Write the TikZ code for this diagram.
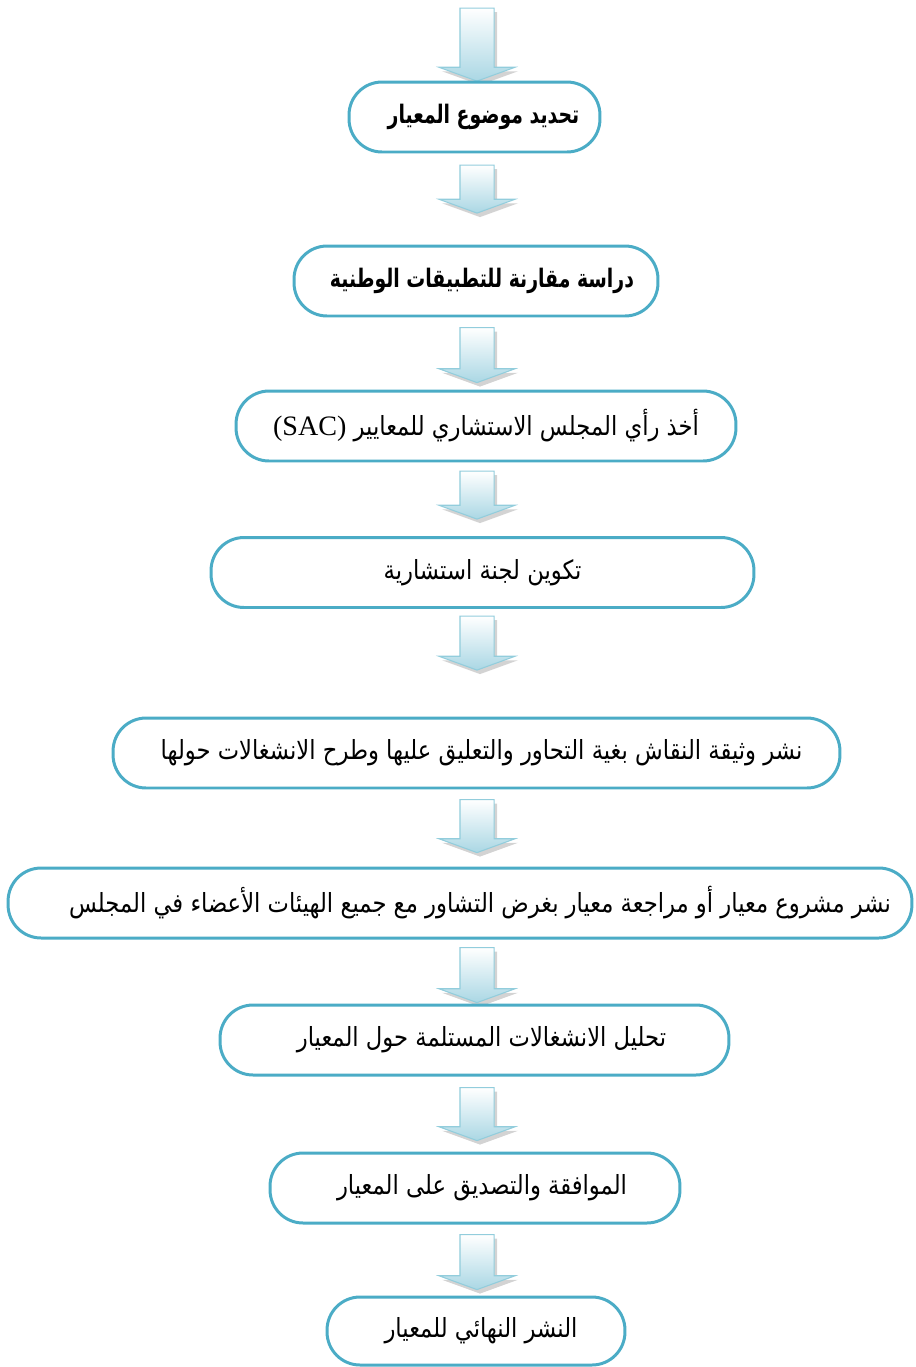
\documentclass[tikz,border=0pt]{standalone}
\usepackage{fontspec}
\setmainfont{Liberation Serif}
\newfontfamily\arabicfont[Script=Arabic, FakeStretch=0.86]{DejaVu Sans}
\newfontfamily\arabicbold[Script=Arabic, FakeStretch=0.74]{DejaVu Sans Bold}
\TeXXeTstate=1
\usetikzlibrary{shapes.arrows,shadows}

\definecolor{stageline}{RGB}{75,172,198}
\definecolor{arrowline}{RGB}{146,205,220}
\definecolor{arrowfill}{RGB}{170,215,228}

\begin{document}
\begin{tikzpicture}[
  x=0.02cm, y=-0.02cm,
  every node/.style={font=\arabicfont\fontsize{15}{18}\selectfont},
  stage/.style={draw=stageline, line width=1.7pt, rounded corners=0.66cm, minimum height=1.4cm, fill=white, align=center},
  keystage/.style={stage, font=\arabicbold\fontsize{14.5}{17}\selectfont},
  flowarrow/.style={single arrow, shape border rotate=270, draw=arrowline, line width=0.6pt,
    top color=white, bottom color=arrowfill, inner sep=0.33cm, single arrow head extend=0.42cm,
    single arrow tip angle=140,
    drop shadow={shadow xshift=0.06cm, shadow yshift=-0.08cm, opacity=0.35, fill=gray}}
]
\useasboundingbox (0,0) rectangle (916,1367);

\node[flowarrow, minimum height=1.46cm] (arr1) at (477,41.5) {};
\node[keystage, minimum width=5.02cm] (topic) at (474.5,117) {\hspace*{0.36cm}\beginR تحديد موضوع المعيار\endR};

\node[flowarrow, minimum height=0.96cm] (arr2) at (477,186) {};
\node[keystage, minimum width=7.28cm] (compare) at (476,281) {\hspace*{0.24cm}\beginR دراسة مقارنة للتطبيقات الوطنية\endR};

\node[flowarrow, minimum height=1.1cm] (arr3) at (477,352) {};
\node[stage, minimum width=10cm] (advice) at (486,426) {\beginR أخذ رأي المجلس الاستشاري للمعايير \beginL{\rmfamily\fontsize{16}{18}\selectfont(SAC)}\endL\endR};

\node[flowarrow, minimum height=0.96cm] (arr4) at (477,492) {};
\node[stage, minimum width=10.86cm] (committee) at (482.5,572.5) {\beginR تكوين لجنة استشارية\endR};

\node[flowarrow, minimum height=1.08cm] (arr5) at (477,640) {};
\node[stage, minimum width=14.54cm] (discuss) at (476.5,753) {\hspace*{0.2cm}\beginR نشر وثيقة النقاش بغية التحاور والتعليق عليها وطرح الانشغالات حولها\endR};

\node[flowarrow, minimum height=1.06cm] (arr6) at (477,823) {};
\node[stage, minimum width=18.08cm] (draft) at (460,903) {\hspace*{0.8cm}\beginR نشر مشروع معيار أو مراجعة معيار بغرض التشاور مع جميع الهيئات الأعضاء في المجلس\endR};

\node[flowarrow, minimum height=1.1cm] (arr7) at (477,972) {};
\node[stage, minimum width=10.18cm] (analysis) at (474.5,1040) {\hspace*{0.28cm}\beginR تحليل الانشغالات المستلمة حول المعيار\endR};

\node[flowarrow, minimum height=1.06cm] (arr8) at (477,1111) {};
\node[stage, minimum width=8.2cm] (approval) at (475,1188) {\hspace*{0.28cm}\beginR الموافقة والتصديق على المعيار\endR};

\node[flowarrow, minimum height=1.1cm] (arr9) at (477,1259) {};
\node[stage, minimum width=5.96cm, minimum height=1.36cm] (final) at (476,1331) {\hspace*{0.2cm}\beginR النشر النهائي للمعيار\endR};
\end{tikzpicture}
\end{document}
